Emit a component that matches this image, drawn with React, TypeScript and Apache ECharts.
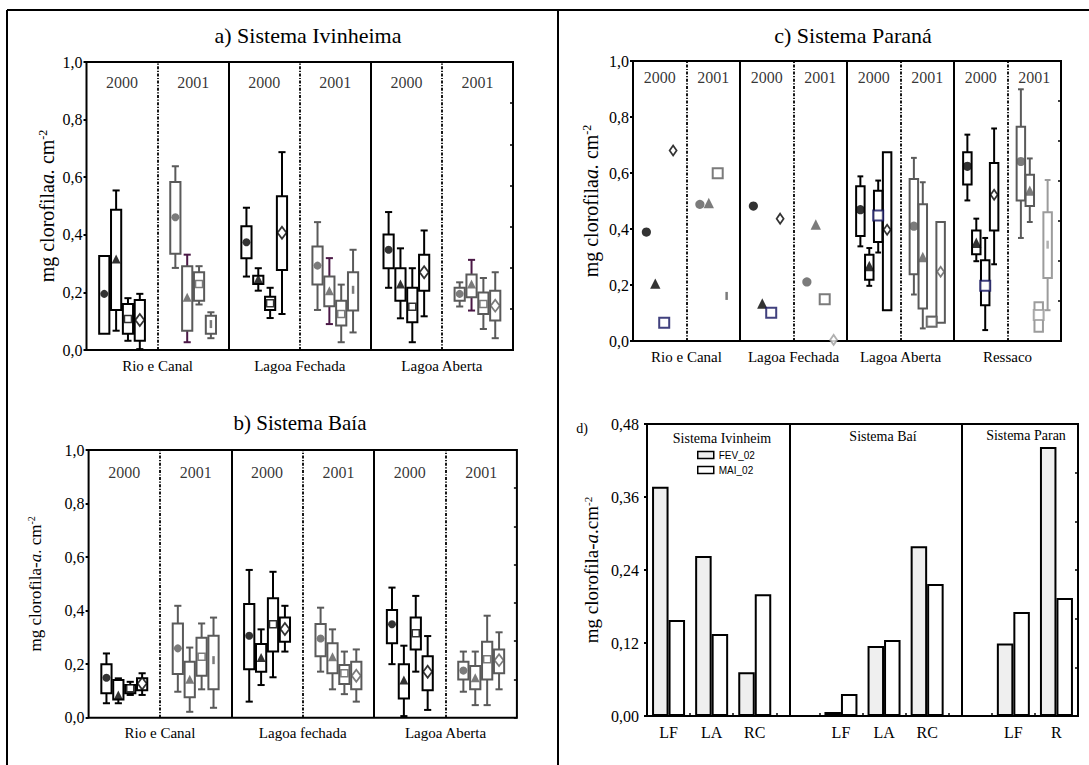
import React, { useEffect, useRef } from 'react';
import * as echarts from 'echarts';

const SERIF = 'Liberation Serif, Times New Roman, serif';
const NARROW = 'Liberation Sans Narrow, Liberation Sans, Arial, sans-serif';

const PANEL_TITLES = ['a) Sistema Ivinheima', 'b) Sistema Baía', 'c) Sistema Paraná'];
const PANEL_D_LABEL = 'd)';
const A_GROUPS = ['Rio e Canal', 'Lagoa Fechada', 'Lagoa Aberta'];
const B_GROUPS = ['Rio e Canal', 'Lagoa fechada', 'Lagoa Aberta'];
const C_GROUPS = ['Rio e Canal', 'Lagoa Fechada', 'Lagoa Aberta', 'Ressaco'];
const YEARS = ['2000', '2001'];
const Y_TITLES = [
  'mg clorofila{i|a.} cm{s|-2}',
  'mg clorofila-{i|a}. cm{s|-2}',
  'mg clorofila{i|a.} cm{s|-2}',
  'mg clorofila-{i|a}.cm{s|-2}',
];

// each row: [whisker low, box low, box high, whisker high, central marker]
// order inside each site: circle, triangle, square, diamond
const A_2000 = [
  [0.056, 0.056, 0.326, 0.326, 0.195],
  [0.067, 0.139, 0.487, 0.554, 0.316],
  [0.032, 0.056, 0.16, 0.18, 0.108],
  [0.003, 0.032, 0.174, 0.195, 0.104],
  [0.255, 0.319, 0.43, 0.494, 0.374],
  [0.206, 0.229, 0.258, 0.284, 0.247],
  [0.111, 0.139, 0.185, 0.216, 0.162],
  [0.125, 0.278, 0.534, 0.687, 0.407],
  [0.216, 0.284, 0.401, 0.479, 0.348],
  [0.11, 0.171, 0.284, 0.353, 0.229],
  [0.027, 0.096, 0.216, 0.284, 0.15],
  [0.117, 0.206, 0.331, 0.415, 0.27],
];
const A_2001 = [
  [0.285, 0.334, 0.583, 0.638, 0.461],
  [0.027, 0.067, 0.291, 0.331, 0.183],
  [0.158, 0.171, 0.27, 0.291, 0.229],
  [0.041, 0.056, 0.119, 0.131, 0.09],
  [0.139, 0.227, 0.359, 0.444, 0.293],
  [0.09, 0.152, 0.255, 0.319, 0.206],
  [0.027, 0.085, 0.171, 0.227, 0.125],
  [0.061, 0.137, 0.27, 0.348, 0.209],
  [0.151, 0.171, 0.216, 0.235, 0.195],
  [0.137, 0.183, 0.262, 0.313, 0.229],
  [0.073, 0.125, 0.2, 0.25, 0.16],
  [0.041, 0.102, 0.206, 0.27, 0.154],
];
const B_2000 = [
  [0.054, 0.091, 0.2, 0.24, 0.149],
  [0.054, 0.068, 0.141, 0.147, 0.085],
  [0.085, 0.091, 0.122, 0.134, 0.11],
  [0.085, 0.103, 0.147, 0.166, 0.128],
  [0.06, 0.181, 0.425, 0.552, 0.306],
  [0.122, 0.172, 0.275, 0.33, 0.225],
  [0.151, 0.247, 0.446, 0.545, 0.349],
  [0.247, 0.284, 0.374, 0.418, 0.331],
  [0.2, 0.278, 0.402, 0.486, 0.349],
  [0.006, 0.072, 0.2, 0.269, 0.141],
  [0.172, 0.255, 0.374, 0.455, 0.315],
  [0.029, 0.103, 0.23, 0.305, 0.172],
];
const B_2001 = [
  [0.097, 0.163, 0.352, 0.418, 0.259],
  [0.022, 0.076, 0.209, 0.262, 0.144],
  [0.106, 0.157, 0.299, 0.352, 0.228],
  [0.037, 0.106, 0.306, 0.374, 0.215],
  [0.172, 0.23, 0.35, 0.411, 0.296],
  [0.106, 0.166, 0.278, 0.33, 0.228],
  [0.088, 0.126, 0.197, 0.247, 0.166],
  [0.06, 0.106, 0.209, 0.255, 0.157],
  [0.097, 0.143, 0.209, 0.247, 0.176],
  [0.047, 0.106, 0.193, 0.247, 0.149],
  [0.047, 0.143, 0.284, 0.381, 0.218],
  [0.106, 0.166, 0.255, 0.319, 0.215],
];
const C_2000 = [
  [null, null, null, null, 0.389],
  [null, null, null, null, 0.205],
  [null, null, null, null, 0.065],
  [null, null, null, null, 0.68],
  [null, null, null, null, 0.482],
  [null, null, null, null, 0.134],
  [null, null, null, null, 0.101],
  [null, null, null, null, 0.437],
  [0.338, 0.375, 0.553, 0.588, 0.469],
  [0.197, 0.219, 0.308, 0.332, 0.268],
  [0.316, 0.354, 0.537, 0.573, 0.448],
  [0.11, 0.11, 0.674, 0.674, 0.397],
  [0.502, 0.559, 0.674, 0.737, 0.624],
  [0.285, 0.31, 0.395, 0.437, 0.351],
  [0.039, 0.128, 0.288, 0.368, 0.197],
  [0.274, 0.395, 0.636, 0.759, 0.522],
];
const C_2001 = [
  [null, null, null, null, 0.488],
  [null, null, null, null, 0.493],
  [null, null, null, null, 0.599],
  [null, null, null, null, 0.161],
  [null, null, null, null, 0.211],
  [null, null, null, null, 0.416],
  [null, null, null, null, 0.149],
  [null, null, null, null, 0.004],
  [0.166, 0.238, 0.579, 0.654, 0.41],
  [0.045, 0.116, 0.488, 0.567, 0.3],
  [0.053, 0.053, 0.087, 0.087, 0.069],
  [0.065, 0.065, 0.425, 0.425, 0.247],
  [0.368, 0.502, 0.765, 0.899, 0.641],
  [0.425, 0.482, 0.594, 0.652, 0.537],
  [0.033, 0.033, 0.138, 0.138, 0.093],
  [0.11, 0.225, 0.46, 0.575, 0.344],
];
// marker shapes: c circle, t triangle, s square, d diamond, b short bar
const A_2000_MARKS = ['c', 't', 's', 'd', 'c', 't', 's', 'd', 'c', 't', 's', 'd'];
const A_2001_MARKS = ['c', 't', 's', 'b', 'c', 't', 's', 'b', 'c', 't', 's', 'd'];
const B_2000_MARKS = ['c', 't', 's', 'd', 'c', 't', 's', 'd', 'c', 't', 's', 'd'];
const B_2001_MARKS = ['c', 't', 's', 'b', 'c', 't', 's', 'd', 'c', 't', 's', 'd'];
const C_2000_MARKS = ['c', 't', 's', 'd', 'c', 't', 's', 'd', 'c', 't', 's', 'd', 'c', 't', 's', 'd'];
const C_2001_MARKS = ['c', 't', 's', 'b', 'c', 't', 's', 'd', 'c', 't', 's', 'd', 'c', 't', 's', 'b'];

const D_CATEGORIES = ['LF', 'LA', 'RC', '', 'LF', 'LA', 'RC', '', 'LF', 'R'];
const D_FEV = [0.377, 0.263, 0.072, null, 0.0066, 0.115, 0.279, null, 0.119, 0.442];
const D_MAI = [0.158, 0.135, 0.2, null, 0.036, 0.125, 0.217, null, 0.171, 0.194];
const D_SERIES = ['FEV_02', 'MAI_02'];
const D_HEADERS = ['Sistema Ivinheim', 'Sistema Baí', 'Sistema Paran'];

const INK = '#000';
const GRAY = '#5a5a5a';
const PURPLE = '#4b1846';
const NAVY = '#12125e';
const LIGHT = '#9c9c9c';

const PANELS = [
  { groups: A_GROUPS, rows: [A_2000, A_2001], marks: [A_2000_MARKS, A_2001_MARKS], yearY: 0.93, boxW: 0.86, capW: 0.6, big: false },
  { groups: B_GROUPS, rows: [B_2000, B_2001], marks: [B_2000_MARKS, B_2001_MARKS], yearY: 0.915, boxW: 0.86, capW: 0.6, big: false },
  { groups: C_GROUPS, rows: [C_2000, C_2001], marks: [C_2000_MARKS, C_2001_MARKS], yearY: 0.94, boxW: 0.95, capW: 0.65, big: true },
];

const GRIDS = [
  { left: 86.5, top: 62, width: 426.5, height: 288 },
  { left: 88.6, top: 450, width: 428.3, height: 267.7 },
  { left: 633, top: 61, width: 428, height: 280 },
  { left: 647, top: 424, width: 431, height: 292 },
];
const Y_NAME = [
  { size: 20, gap: 30 },
  { size: 17, gap: 45 },
  { size: 20, gap: 32 },
  { size: 19, gap: 46 },
];

function boxColor(p: number, y: number, i: number) {
  if (y === 0) return INK;
  if (p === 2 && (i === 14 || i === 15)) return LIGHT;
  return GRAY;
}
function whiskerColor(p: number, y: number, i: number) {
  if (p === 0 && y === 1 && i % 4 === 1) return PURPLE;
  return boxColor(p, y, i);
}
function markColor(p: number, y: number, i: number) {
  if (p === 2 && y === 0 && i % 4 === 2) return NAVY;
  if (p === 2 && y === 1 && (i === 7 || i === 14 || i === 15)) return LIGHT;
  return y === 0 ? INK : GRAY;
}

function markerItem(x: number, v: number, shape: string, color: string, big: boolean) {
  const k = big ? 1.15 : 1;
  if (shape === 'c') return { value: [x, v], symbol: 'circle', symbolSize: 8 * k, itemStyle: { color } };
  if (shape === 't') return { value: [x, v], symbol: 'triangle', symbolSize: [9 * k, 9 * k], itemStyle: { color } };
  if (shape === 's')
    return {
      value: [x, v],
      symbol: 'rect',
      symbolSize: big ? 10 : 7,
      itemStyle: { color: '#fff', borderColor: color, borderWidth: big ? 2 : 1.5 },
    };
  if (shape === 'd')
    return {
      value: [x, v],
      symbol: 'diamond',
      symbolSize: big ? [7, 10] : [9, 12],
      itemStyle: { color: '#fff', borderColor: color, borderWidth: 1.8 },
    };
  return { value: [x, v], symbol: 'rect', symbolSize: [2.5, 8], itemStyle: { color } };
}

function makeBoxRenderer(colors: string[], whiskers: string[], boxW: number, capW: number) {
  return (params: any, api: any) => {
    const x = api.value(0);
    const wl = api.value(1);
    const q1 = api.value(2);
    const q3 = api.value(3);
    const wh = api.value(4);
    if (q1 == null || q3 == null || isNaN(q1) || isNaN(q3)) return null;
    const bw = api.size([boxW, 0])[0];
    const cw = api.size([capW, 0])[0];
    const p1 = api.coord([x, q1]);
    const p3 = api.coord([x, q3]);
    const pl = api.coord([x, wl]);
    const ph = api.coord([x, wh]);
    const cx = p1[0];
    const c = colors[params.dataIndex];
    const wc = whiskers[params.dataIndex];
    const ls = { stroke: wc, lineWidth: 2 };
    const children: any[] = [];
    if (wh > q3) {
      children.push({ type: 'line', shape: { x1: cx, y1: p3[1], x2: cx, y2: ph[1] }, style: ls });
      children.push({ type: 'line', shape: { x1: cx - cw / 2, y1: ph[1], x2: cx + cw / 2, y2: ph[1] }, style: ls });
    }
    if (wl < q1) {
      children.push({ type: 'line', shape: { x1: cx, y1: p1[1], x2: cx, y2: pl[1] }, style: ls });
      children.push({ type: 'line', shape: { x1: cx - cw / 2, y1: pl[1], x2: cx + cw / 2, y2: pl[1] }, style: ls });
    }
    children.push({
      type: 'rect',
      shape: { x: cx - bw / 2, y: p3[1], width: bw, height: p1[1] - p3[1] },
      style: { fill: 'none', stroke: c, lineWidth: 2 },
    });
    return { type: 'group', children };
  };
}

function buildOption() {
  const series: any[] = [];
  const xAxis: any[] = [];
  const yAxis: any[] = [];

  const solid = { type: 'solid', color: '#000', width: 2 };
  const dashed = { type: [3, 1.5, 1.2, 1.5], color: '#000', width: 1.8 };

  PANELS.forEach((P, p) => {
    const span = P.groups.length * 12;
    xAxis.push({
      gridIndex: p,
      type: 'value',
      min: 0,
      max: span,
      interval: 6,
      axisLine: { show: false },
      axisTick: { show: false },
      splitLine: { show: false },
      axisLabel: {
        margin: 8,
        fontSize: 15,
        fontFamily: SERIF,
        color: '#000',
        formatter: (v: number) => {
          const g = (v - 6) / 12;
          return Number.isInteger(g) && g >= 0 && g < P.groups.length ? P.groups[g] : '';
        },
      },
    });

    const yearData: any[] = [];
    P.groups.forEach((_, g) =>
      YEARS.forEach((yr, y) => yearData.push({ value: [g * 12 + y * 6 + 3, P.yearY], name: yr }))
    );
    const sepData: any[] = [];
    for (let k = 1; k < P.groups.length * 2; k++) {
      sepData.push({ xAxis: k * 6, lineStyle: k % 2 === 0 ? solid : dashed });
    }
    series.push({
      type: 'scatter',
      name: 'years' + p,
      xAxisIndex: p,
      yAxisIndex: 2 * p,
      data: yearData,
      symbolSize: 1,
      itemStyle: { color: 'rgba(0,0,0,0)' },
      label: { show: true, position: 'inside', formatter: '{b}', fontSize: 16, fontFamily: SERIF, color: '#000' },
      markLine: { silent: true, symbol: ['none', 'none'], label: { show: false }, data: sepData },
      z: 1,
    });

    YEARS.forEach((yr, y) => {
      const rows = P.rows[y];
      const xs = rows.map((_, i) => Math.floor(i / 4) * 12 + y * 6 + 1.5 + (i % 4));
      const colors = rows.map((_, i) => boxColor(p, y, i));
      const whisk = rows.map((_, i) => whiskerColor(p, y, i));
      series.push({
        type: 'custom',
        name: `box${p}-${yr}`,
        xAxisIndex: p,
        yAxisIndex: 2 * p,
        renderItem: makeBoxRenderer(colors, whisk, P.boxW, P.capW),
        encode: { x: 0, y: [1, 2, 3, 4] },
        data: rows.map((r, i) => [xs[i], r[0], r[1], r[2], r[3]]),
        z: 2,
      });
      series.push({
        type: 'scatter',
        name: `mark${p}-${yr}`,
        xAxisIndex: p,
        yAxisIndex: 2 * p,
        data: rows.map((r, i) => markerItem(xs[i], r[4] as number, P.marks[y][i], markColor(p, y, i), P.big)),
        z: 3,
      });
    });
  });

  // panel d x axis
  xAxis.push({
    gridIndex: 3,
    type: 'category',
    data: D_CATEGORIES.map((_, i) => String(i)),
    axisLine: { show: false },
    axisTick: { show: true, inside: true, length: 3, lineStyle: { color: '#000', width: 1.5 } },
    splitLine: { show: false },
    axisLabel: {
      margin: 8,
      fontSize: 16,
      fontFamily: SERIF,
      color: '#000',
      interval: 0,
      formatter: (_v: string, i: number) => D_CATEGORIES[i],
    },
  });

  GRIDS.forEach((_, p) => {
    const isD = p === 3;
    const f = Y_NAME[p].size;
    yAxis.push({
      gridIndex: p,
      type: 'value',
      min: 0,
      max: isD ? 0.48 : 1,
      interval: isD ? 0.12 : 0.2,
      axisLine: { show: false },
      axisTick: { show: true, length: 3, lineStyle: { color: '#000', width: 2 } },
      splitLine: { show: false },
      axisLabel: {
        margin: isD ? 8 : 4,
        fontSize: 16,
        fontFamily: SERIF,
        color: '#000',
        formatter: (v: number) => v.toFixed(isD ? 2 : 1).replace('.', ','),
      },
      name: Y_TITLES[p],
      nameLocation: 'middle',
      nameRotate: 90,
      nameGap: Y_NAME[p].gap,
      nameTextStyle: {
        fontSize: f,
        fontFamily: SERIF,
        color: '#000',
        rich: {
          i: { fontSize: f, fontFamily: SERIF, fontStyle: 'italic', color: '#000' },
          s: { fontSize: Math.round(f * 0.6), fontFamily: SERIF, verticalAlign: 'top', color: '#000' },
        },
      },
    });
    yAxis.push({
      gridIndex: p,
      type: 'value',
      position: 'right',
      min: 0,
      max: isD ? 6 : 7,
      interval: 1,
      axisLine: { show: false },
      axisTick: { show: true, inside: true, length: 3, lineStyle: { color: '#000', width: 1.5 } },
      axisLabel: { show: false },
      splitLine: { show: false },
    });
  });

  series.push({
    type: 'bar',
    name: D_SERIES[0],
    xAxisIndex: 3,
    yAxisIndex: 6,
    data: D_FEV,
    barWidth: 16.5,
    barGap: '0%',
    itemStyle: { color: '#efefef', borderColor: '#000', borderWidth: 2 },
    markLine: {
      silent: true,
      symbol: ['none', 'none'],
      label: { show: false },
      lineStyle: { type: 'solid', color: '#000', width: 2 },
      data: [{ xAxis: 3 }, { xAxis: 7 }],
    },
  });
  series.push({
    type: 'bar',
    name: D_SERIES[1],
    xAxisIndex: 3,
    yAxisIndex: 6,
    data: D_MAI,
    barWidth: 16.5,
    barGap: '0%',
    itemStyle: { color: '#ffffff', borderColor: '#000', borderWidth: 2 },
  });

  const txt = (x: number, y: number, text: string, size: number) => ({
    type: 'text',
    x,
    y,
    style: { text, fontSize: size, fontFamily: SERIF, fill: '#000', align: 'center', verticalAlign: 'middle' },
  });
  const frame = { stroke: '#000', lineWidth: 2 };

  return {
    animation: false,
    backgroundColor: '#fff',
    textStyle: { fontFamily: SERIF },
    grid: GRIDS.map((g) => ({ ...g, show: true, borderColor: '#000', borderWidth: 2, backgroundColor: 'transparent' })),
    xAxis,
    yAxis,
    legend: {
      data: D_SERIES,
      orient: 'vertical',
      left: 697,
      top: 450,
      itemWidth: 16,
      itemHeight: 7,
      itemGap: 5,
      icon: 'rect',
      padding: 0,
      itemStyle: { borderColor: '#000', borderWidth: 1.5 },
      textStyle: { fontSize: 10, fontFamily: NARROW, color: '#000' },
    },
    graphic: [
      { type: 'line', shape: { x1: 7, y1: 10, x2: 1089, y2: 10 }, style: frame },
      { type: 'line', shape: { x1: 7, y1: 10, x2: 7, y2: 765 }, style: frame },
      { type: 'line', shape: { x1: 558, y1: 10, x2: 558, y2: 765 }, style: frame },
      txt(308, 35, PANEL_TITLES[0], 22),
      txt(300, 423, PANEL_TITLES[1], 21),
      txt(853, 35, PANEL_TITLES[2], 22),
      txt(582, 428, PANEL_D_LABEL, 14),
      txt(722, 438, D_HEADERS[0], 14),
      txt(883, 436, D_HEADERS[1], 14),
      txt(1026, 435, D_HEADERS[2], 14),
    ],
    series,
  };
}

export default function App() {
  const ref = useRef<HTMLDivElement>(null);
  useEffect(() => {
    if (!ref.current) return;
    const chart = echarts.init(ref.current, undefined, { renderer: 'svg' });
    chart.setOption(buildOption() as any);
    return () => chart.dispose();
  }, []);
  return (
    <div
      ref={ref}
      style={{ position: 'absolute', left: 0, top: 0, width: 1089, height: 765, background: '#fff' }}
    />
  );
}
